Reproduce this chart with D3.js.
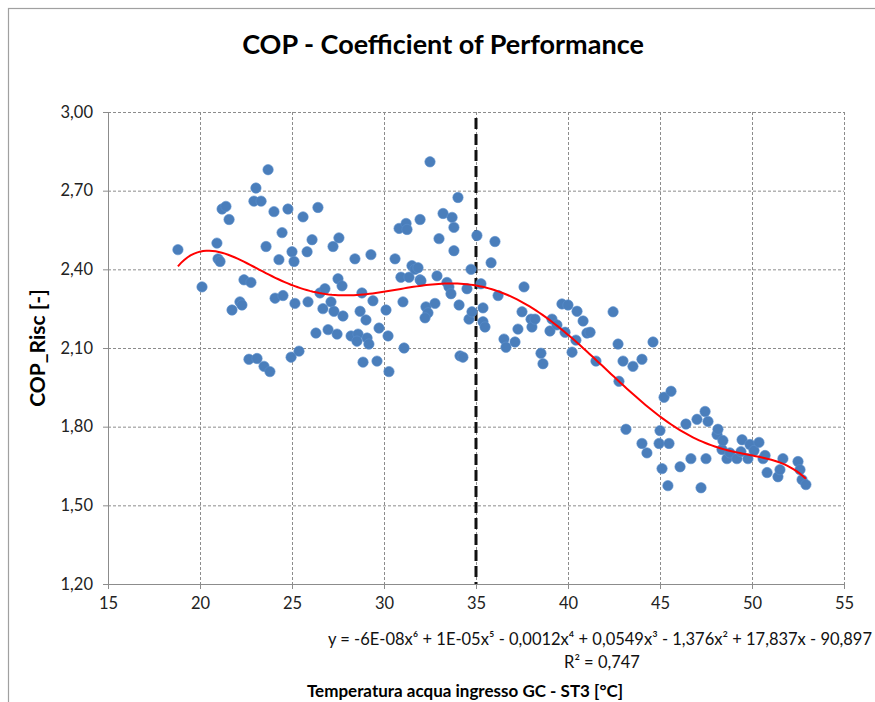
<!DOCTYPE html>
<html><head><meta charset="utf-8">
<script src="https://cdn.jsdelivr.net/npm/d3@7"></script>
<style>body{margin:0;background:#fff;} text{font-family:Lato,"Open Sans",sans-serif;}</style>
</head><body><svg id="c" width="875" height="702"></svg>
<script>
const xVals = [18.80,20.11,20.92,20.98,21.09,21.20,21.41,21.58,21.74,22.17,22.28,22.39,22.77,22.66,22.93,23.04,23.10,23.32,23.48,23.59,23.70,23.80,24.02,24.08,24.29,24.46,24.51,24.78,24.95,25.00,25.11,25.16,25.38,25.60,25.82,25.87,26.09,26.30,26.41,26.52,26.68,26.79,26.96,27.12,27.23,27.28,27.45,27.50,27.55,27.72,27.77,28.21,28.42,28.59,28.53,28.70,28.80,28.86,29.02,29.08,29.18,29.29,29.40,29.62,29.73,30.11,30.22,30.27,30.60,30.82,30.92,31.03,31.09,31.20,31.25,31.36,31.52,31.68,31.85,31.96,31.96,32.01,32.28,32.39,32.23,32.50,32.77,32.88,32.99,33.21,33.42,33.53,33.64,33.70,33.80,33.80,34.02,34.08,34.13,34.29,34.51,34.62,34.73,34.78,35.05,35.38,35.27,35.38,35.49,35.82,36.03,36.20,36.52,36.63,37.12,37.28,37.50,37.61,37.99,38.04,38.21,38.53,38.64,39.02,39.13,39.40,39.67,39.84,40.00,40.22,40.43,40.49,40.82,41.03,41.20,41.52,42.45,42.72,42.77,42.99,43.15,43.53,44.02,44.02,44.29,44.62,44.95,45.00,45.11,45.22,45.43,45.49,45.60,46.09,46.41,46.68,47.01,47.23,47.45,47.50,47.61,48.10,48.15,48.37,48.42,48.64,48.80,49.18,49.40,49.46,49.78,49.89,50.11,50.38,50.60,50.71,50.82,51.41,51.52,51.68,52.50,52.61,52.72,52.93];
const copVals = [2.475,2.333,2.50,2.44,2.43,2.63,2.64,2.59,2.245,2.276,2.264,2.36,2.35,2.057,2.66,2.71,2.06,2.66,2.03,2.487,2.78,2.01,2.62,2.29,2.437,2.54,2.30,2.63,2.065,2.467,2.43,2.27,2.088,2.60,2.467,2.276,2.513,2.157,2.636,2.31,2.25,2.326,2.17,2.276,2.487,2.24,2.153,2.364,2.52,2.337,2.222,2.146,2.44,2.153,2.126,2.24,2.31,2.046,2.207,2.138,2.115,2.456,2.28,2.05,2.176,2.245,2.146,2.01,2.44,2.556,2.37,2.276,2.10,2.575,2.552,2.37,2.414,2.40,2.406,2.36,2.59,2.356,2.257,2.234,2.215,2.81,2.27,2.375,2.517,2.613,2.35,2.333,2.307,2.598,2.56,2.471,2.674,2.264,2.07,2.065,2.326,2.21,2.40,2.238,2.529,2.253,2.345,2.20,2.18,2.425,2.506,2.30,2.134,2.103,2.123,2.172,2.238,2.333,2.21,2.18,2.21,2.08,2.04,2.165,2.21,2.188,2.268,2.16,2.264,2.084,2.13,2.24,2.203,2.157,2.16,2.05,2.238,2.115,1.973,2.05,1.79,2.03,2.057,1.736,1.70,2.123,1.736,1.785,1.64,1.912,1.575,1.736,1.935,1.647,1.81,1.678,1.828,1.567,1.858,1.678,1.82,1.77,1.79,1.713,1.747,1.678,1.70,1.678,1.705,1.75,1.678,1.732,1.709,1.74,1.678,1.69,1.625,1.609,1.636,1.678,1.667,1.636,1.598,1.579];
const xTicks = [15,20,25,30,35,40,45,50,55];
const yTicks = [1.20,1.50,1.80,2.10,2.40,2.70,3.00];
const refLineX = 35;
const titleText = "COP - Coefficient of Performance";
const yTitle = "COP_Risc [-]";
const xTitle = "Temperatura acqua ingresso GC - ST3 [°C]";
const eqText = "y = -6E-08x⁶ + 1E-05x⁵ - 0,0012x⁴ + 0,0549x³ - 1,376x² + 17,837x - 90,897";
const r2Text = "R² = 0,747";

const svg = d3.select("#c");
const L=108, R=844, T=112, B=584;
const x = d3.scaleLinear().domain([15,55]).range([L,R]);
const y = d3.scaleLinear().domain([1.2,3.0]).range([B,T]);
const fmt = v => d3.format(".2f")(v).replace(".", ",");

// chart border
svg.append("rect").attr("x",8.5).attr("y",8.5).attr("width",900).attr("height",720)
  .attr("fill","none").attr("stroke","#a0a0a0").attr("stroke-width",1.2);

// gridlines
const g = svg.append("g");
g.selectAll("line.gx").data(xTicks.slice(1)).join("line")
  .attr("x1",d=>x(d)+0.5).attr("x2",d=>x(d)+0.5).attr("y1",T).attr("y2",B)
  .attr("stroke","#8c8c8c").attr("stroke-dasharray","3,2").attr("stroke-width",1);
g.selectAll("line.gy").data(yTicks.slice(1)).join("line")
  .attr("y1",d=>y(d)+0.5).attr("y2",d=>y(d)+0.5).attr("x1",L).attr("x2",R)
  .attr("stroke","#8c8c8c").attr("stroke-dasharray","3,2").attr("stroke-width",1);

// axes
const xa = svg.append("g").attr("transform",`translate(0,${B})`)
  .call(d3.axisBottom(x).tickValues(xTicks).tickSize(5).tickPadding(8).tickFormat(d3.format("d")));
const ya = svg.append("g").attr("transform",`translate(${L},0)`)
  .call(d3.axisLeft(y).tickValues(yTicks).tickSize(5).tickPadding(10).tickFormat(fmt));
[xa,ya].forEach(a=>{
  a.select(".domain").attr("stroke","#8c8c8c");
  a.selectAll(".tick line").attr("stroke","#8c8c8c");
  a.selectAll(".tick text").attr("font-size",16.5).attr("fill","#222").attr("font-family","Lato, sans-serif");
});

// reference dashed line
svg.append("line").attr("x1",x(refLineX)).attr("x2",x(refLineX)).attr("y1",118).attr("y2",B)
  .attr("stroke","#111").attr("stroke-width",3).attr("stroke-dasharray","11,5");

// points
const pts = xVals.map((v,i)=>({x:v,y:copVals[i]}));
svg.append("g").selectAll("circle").data(pts).join("circle")
  .attr("cx",d=>x(d.x)).attr("cy",d=>y(d.y)).attr("r",5.2)
  .attr("fill","#4a7ebb").attr("stroke","#5b8fcc").attr("stroke-width",0.6);

// polynomial (degree 6) least-squares trendline fitted to the data
function polyfit(xs, ys, deg){
  const m = d3.mean(xs), s = d3.deviation(xs);
  const n = deg+1;
  const A = Array.from({length:n},()=>new Array(n+1).fill(0));
  xs.forEach((xv,k)=>{
    const t=(xv-m)/s; const pw=[1]; for(let i=1;i<2*n;i++) pw.push(pw[i-1]*t);
    for(let i=0;i<n;i++){ for(let j=0;j<n;j++) A[i][j]+=pw[i+j]; A[i][n]+=pw[i]*ys[k]; }
  });
  for(let i=0;i<n;i++){
    let p=i; for(let r=i+1;r<n;r++) if(Math.abs(A[r][i])>Math.abs(A[p][i])) p=r;
    [A[i],A[p]]=[A[p],A[i]];
    for(let r=0;r<n;r++){ if(r===i) continue; const f=A[r][i]/A[i][i]; for(let c=i;c<=n;c++) A[r][c]-=f*A[i][c]; }
  }
  const c = A.map((row,i)=>row[n]/row[i]);
  return xv=>{const t=(xv-m)/s; let v=0; for(let i=n-1;i>=0;i--) v=v*t+c[i]; return v;};
}
const f = polyfit(xVals, copVals, 6);
const [xmin,xmax] = d3.extent(xVals);
const curve = d3.range(0,201).map(i=>xmin+(xmax-xmin)*i/200).map(v=>[v,f(v)]);
svg.append("path").datum(curve)
  .attr("d",d3.line().x(d=>x(d[0])).y(d=>y(d[1])))
  .attr("fill","none").attr("stroke","#ff0000").attr("stroke-width",2);

// texts
svg.append("text").attr("x",443).attr("y",54).attr("text-anchor","middle")
  .attr("font-size",27).attr("font-weight","bold").attr("fill","#000").text(titleText);
svg.append("text").attr("transform","translate(45,348) rotate(-90)").attr("text-anchor","middle")
  .attr("font-size",21).attr("font-weight","bold").attr("fill","#000").text(yTitle);
svg.append("text").attr("x",465).attr("y",697).attr("text-anchor","middle")
  .attr("font-size",17).attr("font-weight","bold").attr("fill","#000").text(xTitle);
svg.append("text").attr("x",872).attr("y",645).attr("text-anchor","end")
  .attr("font-size",16.5).attr("fill","#111").text(eqText);
svg.append("text").attr("x",602).attr("y",668).attr("text-anchor","middle")
  .attr("font-size",16.5).attr("fill","#111").text(r2Text);
</script></body></html>
